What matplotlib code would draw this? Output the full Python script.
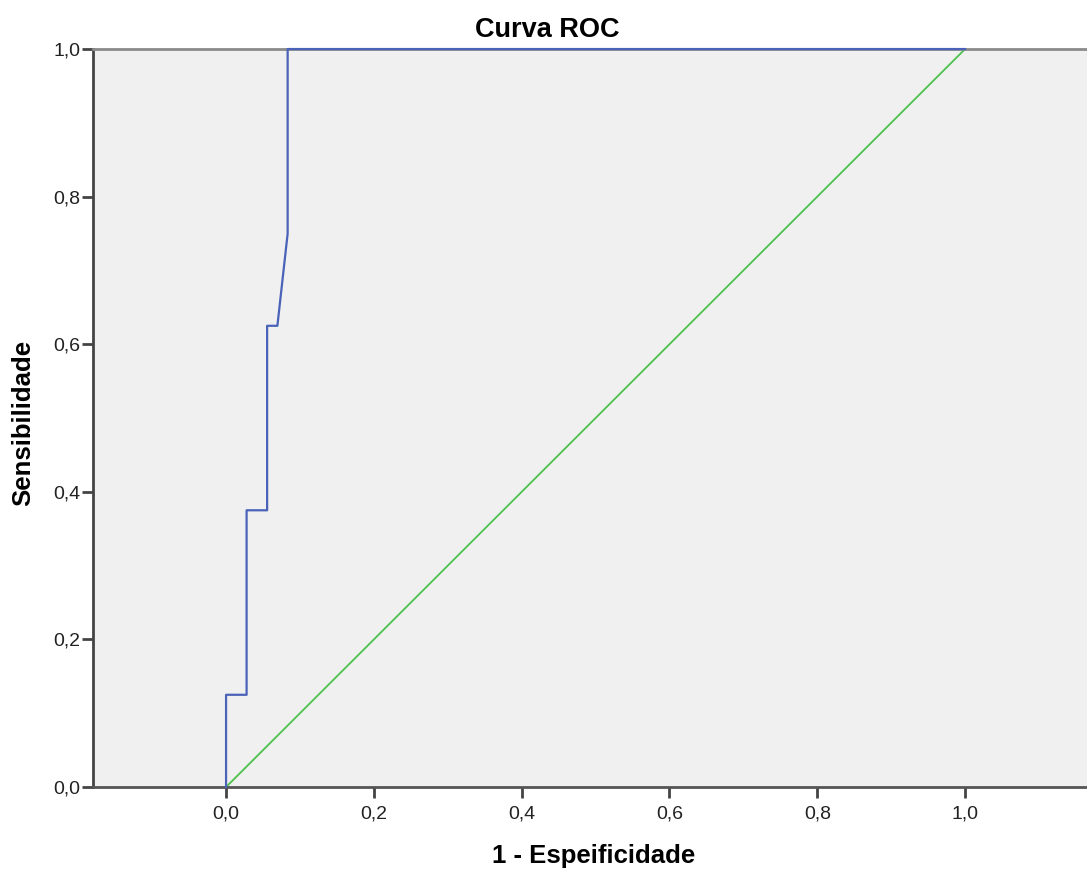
import matplotlib
matplotlib.use("Agg")
import matplotlib.pyplot as plt
from matplotlib.ticker import FuncFormatter

# ROC curve points (1 - especificidade, sensibilidade)
fpr = [0.0, 0.0, 1/36, 1/36, 2/36, 2/36, 2.5/36, 3/36, 3/36, 1.0]
tpr = [0.0, 0.125, 0.125, 0.375, 0.375, 0.625, 0.625, 0.75, 1.0, 1.0]
ref_x = [0.0, 1.0]
ref_y = [0.0, 1.0]
ticks = [0.0, 0.2, 0.4, 0.6, 0.8, 1.0]

plt.rcParams['font.family'] = ['Liberation Sans', 'DejaVu Sans']

fig = plt.figure(figsize=(10.87, 8.71), dpi=100)
ax = fig.add_axes([0.0856, 0.0964, 0.9144, 0.8473])
ax.set_facecolor("#f0f0f0")

ax.plot(ref_x, ref_y, color="#4cc24c", linewidth=1.3, zorder=2)
ax.plot(fpr, tpr, color="#4a62b8", linewidth=1.6, zorder=3, clip_on=False)

ax.set_xlim(-0.18, 1.165)
ax.set_ylim(0, 1)
ax.set_xticks(ticks)
ax.set_yticks(ticks)
fmt = FuncFormatter(lambda v, p: f"{v:.1f}".replace(".", ","))
ax.xaxis.set_major_formatter(fmt)
ax.yaxis.set_major_formatter(fmt)
ax.tick_params(axis="both", direction="out", length=8, width=2, color="#444444",
               labelsize=14, labelcolor="#222222")
ax.tick_params(axis="y", pad=1)
ax.tick_params(axis="x", pad=5)

ax.spines['right'].set_visible(False)
ax.spines['top'].set_color("#8a8a8a")
ax.spines['top'].set_linewidth(2)
ax.spines['left'].set_color("#444444")
ax.spines['left'].set_linewidth(2)
ax.spines['bottom'].set_color("#555555")
ax.spines['bottom'].set_linewidth(2)

fig.text(0.503, 0.9656, "Curva ROC", fontsize=19.5, fontweight="bold",
         ha="center", va="center")
fig.text(0.5465, 0.0172, "1 - Espeificidade", fontsize=18.5, fontweight="bold",
         ha="center", va="center")
fig.text(0.0212, 0.514, "Sensibilidade", fontsize=18.5, fontweight="bold",
         ha="center", va="center", rotation=90)

fig.savefig("out.png", dpi=100)
